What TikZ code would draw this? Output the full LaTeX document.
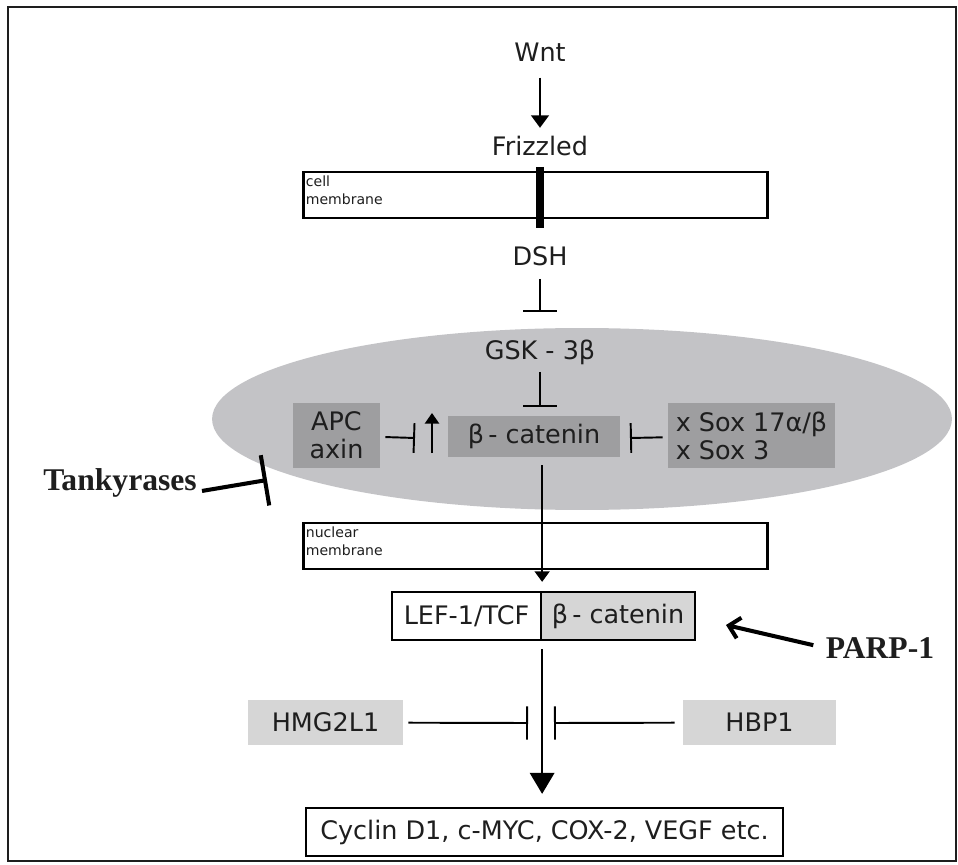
\documentclass[tikz,border=0pt]{standalone}
\usepackage{fontspec}
\setmainfont{DejaVu Sans}
\newfontfamily\timesfont{Liberation Serif}
\usetikzlibrary{arrows.meta,positioning,shapes.geometric}

\definecolor{cytogray}{RGB}{195,195,198}
\definecolor{boxgray}{RGB}{158,158,160}
\definecolor{palegray}{RGB}{214,214,214}
\definecolor{ink}{RGB}{30,30,30}

\tikzset{
  sig/.style={font=\fontsize{14.5}{16}\selectfont, text=ink, inner sep=0pt},
  greybox/.style={sig, fill=boxgray},
  palebox/.style={sig, fill=palegray},
  outlined/.style={sig, draw=black, line width=1.3pt},
  membrane/.style={draw=black, line width=1.7pt},
  memtext/.style={font=\fontsize{8}{10}\selectfont, text=ink, align=left, inner sep=0pt},
  act/.style={-{Triangle[width=10pt,length=7pt]}, line width=1.1pt},
  inhib/.style={-{Bar[width=19pt]}, line width=1.1pt},
  serifbold/.style={font=\timesfont\bfseries\fontsize{18}{20}\selectfont, text=ink, inner sep=0pt},
}

\begin{document}
\begin{tikzpicture}[x=0.02cm, y=-0.02cm]
  \useasboundingbox (0,0) rectangle (958,865);
  % Frame
  \draw[line width=1.2pt, draw=ink] (8,7) rectangle (956,861);

  % Receptor
  \node[sig] (wnt) at (540,52) {Wnt};
  \node[sig] (fzd) at (540,146) {Frizzled};
  \draw[act, shorten <=0.32cm, shorten >=0.16cm] (wnt) -- (fzd);

  % Membranes
  \foreach \y/\name/\txt in {195/cellmem/cell, 546/nucmem/nuclear}{
      \node[membrane, minimum width=9.3cm, minimum height=0.92cm] (\name) at (535.5,\y) {};
      \node[memtext, anchor=north west] (\name txt) at ([shift={(0.08cm,-0.1cm)}]\name.north west) {\txt\\membrane};
    }
  \draw[line width=4pt] (540,167) -- (540,228);

  \node[sig] (dsh) at (540,256) {DSH};
  \coordinate (dshbar) at (540,312);
  \draw[inhib, shorten <=0.26cm] (dsh) -- (dshbar);

  % Cytoplasm
  \node[ellipse, fill=cytogray, minimum width=14.8cm, minimum height=3.64cm, inner sep=0pt] (cyto) at (582,419) {};
  \node[sig] (gsk) at (540,352) {GSK - 3β};
  \node[greybox, minimum width=3.44cm, minimum height=0.82cm] (bcat) at (534,436.5) {β\,- catenin};
  \node[greybox, minimum width=1.74cm, minimum height=1.3cm, align=center] (apc) at (336.5,435.5) {APC\\axin};
  \node[greybox, minimum width=3.34cm, minimum height=1.3cm, align=left] (sox) at (751.5,435.5) {x Sox 17α/β\\x Sox 3};

  \draw[inhib, shorten <=0.14cm, shorten >=0.18cm] (gsk.south) -- (gsk.south |- bcat.north);
  \coordinate (apcbar) at (415,438);
  \draw[inhib, -{Bar[width=17pt]}, shorten <=0.1cm] (apc) -- (apcbar);
  \coordinate (upfoot) at (432,453);
  \coordinate (uphead) at (432,413);
  \draw[act, -{Triangle[width=8pt,length=6pt]}] (upfoot) -- (uphead);
  \coordinate (soxbar) at (630,438);
  \draw[inhib, -{Bar[width=17pt]}, shorten <=0.1cm] (sox) -- (soxbar);

  % Tankyrases
  \node[serifbold] (tank) at (120,483) {Tankyrases};
  \coordinate (tankbar) at (267,480);
  \draw[line width=2.3pt, -{Bar[width=29pt]}, shorten <=0.1cm] ([yshift=-5pt]tank.east) -- (tankbar);

  % Nucleus
  \node[outlined, minimum width=2.98cm, minimum height=0.96cm] (lef) at (466.5,616) {LEF-1/TCF};
  \node[outlined, fill=palegray, minimum width=3.08cm, minimum height=0.96cm] (lefcat) at (618,616) {β\,- catenin};
  \draw[act, -{Triangle[width=8.5pt,length=6pt]}, shorten <=0.16cm, shorten >=0.18cm] (bcat.south -| lef.east) -- (lef.north east);

  \node[serifbold] (parp) at (880,648) {PARP-1};
  \coordinate (parptip) at (726,625);
  \draw[line width=2.3pt, -{Straight Barb[length=6pt,width=12pt]}, shorten <=0.25cm] (parp.west) -- (parptip);

  % Targets
  \node[outlined, minimum width=9.54cm, minimum height=0.96cm] (genes) at (544.5,832) {Cyclin D1, c-MYC, COX-2, VEGF etc.};
  \draw[act, -{Triangle[width=14pt,length=12pt]}, shorten <=0.16cm, shorten >=0.26cm] (lef.south east) -- (lef.south east |- genes.north);

  \node[palebox, minimum width=3.1cm, minimum height=0.9cm] (hmg) at (325.5,722.5) {HMG2L1};
  \node[palebox, minimum width=3.06cm, minimum height=0.9cm] (hbp) at (759.5,722.5) {HBP1};
  \coordinate (hmgbar) at (528,723);
  \coordinate (hbpbar) at (554,723);
  \draw[inhib, shorten <=0.1cm] (hmg) -- (hmgbar);
  \draw[inhib, shorten <=0.16cm] (hbp) -- (hbpbar);
\end{tikzpicture}
\end{document}
